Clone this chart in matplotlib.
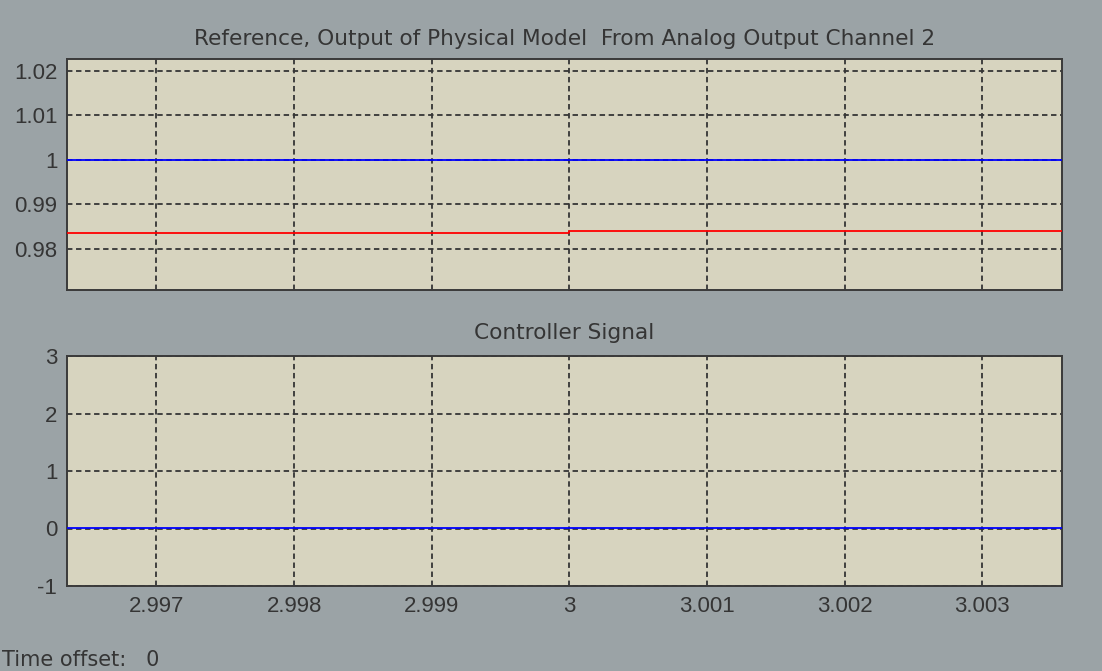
import numpy as np
import matplotlib.pyplot as plt

# Scope readout: reference vs plant output, and the controller signal
t = [2.99635, 3.0, 3.0, 3.00358]
reference = [1.0, 1.0, 1.0, 1.0]
plant_output = [0.9836, 0.9836, 0.9839, 0.9839]
controller = [0.015, 0.015, 0.015, 0.015]

x_ticks = [2.997, 2.998, 2.999, 3.0, 3.001, 3.002, 3.003]
x_labels = ['2.997', '2.998', '2.999', '3', '3.001', '3.002', '3.003']
top_yticks = [0.98, 0.99, 1.0, 1.01, 1.02]
top_ylabels = ['0.98', '0.99', '1', '1.01', '1.02']
bot_yticks = [-1, 0, 1, 2, 3]
bot_ylabels = ['-1', '0', '1', '2', '3']

BG = '#9ba3a6'
FACE = '#d7d4bf'
INK = '#353535'

plt.rcParams['font.family'] = ['Liberation Sans', 'DejaVu Sans']
plt.rcParams['axes.unicode_minus'] = False

fig = plt.figure(figsize=(11.02, 6.71), dpi=100, facecolor=BG)
W, H = 1102, 671


def make_axes(left, top, right, bottom):
    ax = fig.add_axes([left / W, 1 - bottom / H, (right - left) / W, (bottom - top) / H])
    ax.set_facecolor(FACE)
    for sp in ax.spines.values():
        sp.set_color('#3a3a3a')
        sp.set_linewidth(1.4)
    ax.grid(True, color=INK, linestyle=(0, (3, 2)), linewidth=1.3)
    ax.tick_params(length=0, pad=7, labelsize=16, colors=INK)
    ax.set_xlim(t[0], t[-1])
    ax.set_xticks(x_ticks)
    return ax


ax1 = make_axes(67, 59, 1062, 290)
ax1.plot(t, reference, color='#0000ff', linewidth=1.3, zorder=3)
ax1.plot(t, plant_output, color='#ff0000', linewidth=1.3, zorder=3)
ax1.set_ylim(0.9707, 1.0227)
ax1.set_yticks(top_yticks)
ax1.set_yticklabels(top_ylabels)
ax1.set_xticklabels([])
ax1.set_title('Reference, Output of Physical Model  From Analog Output Channel 2',
              fontsize=15.6, family='DejaVu Sans', color=INK, pad=10)

ax2 = make_axes(67, 356, 1062, 586)
ax2.plot(t, controller, color='#0000ff', linewidth=1.3, zorder=3)
ax2.set_ylim(-1, 3)
ax2.set_yticks(bot_yticks)
ax2.set_yticklabels(bot_ylabels)
ax2.set_xticklabels(x_labels)
ax2.set_title('Controller Signal', fontsize=15.6, family='DejaVu Sans', color=INK, pad=12)

fig.text(2 / W, 1 - 660 / H, 'Time offset:   0', fontsize=15, family='DejaVu Sans',
         color=INK, va='center')

fig.savefig('out.png', dpi=100, facecolor=BG)
